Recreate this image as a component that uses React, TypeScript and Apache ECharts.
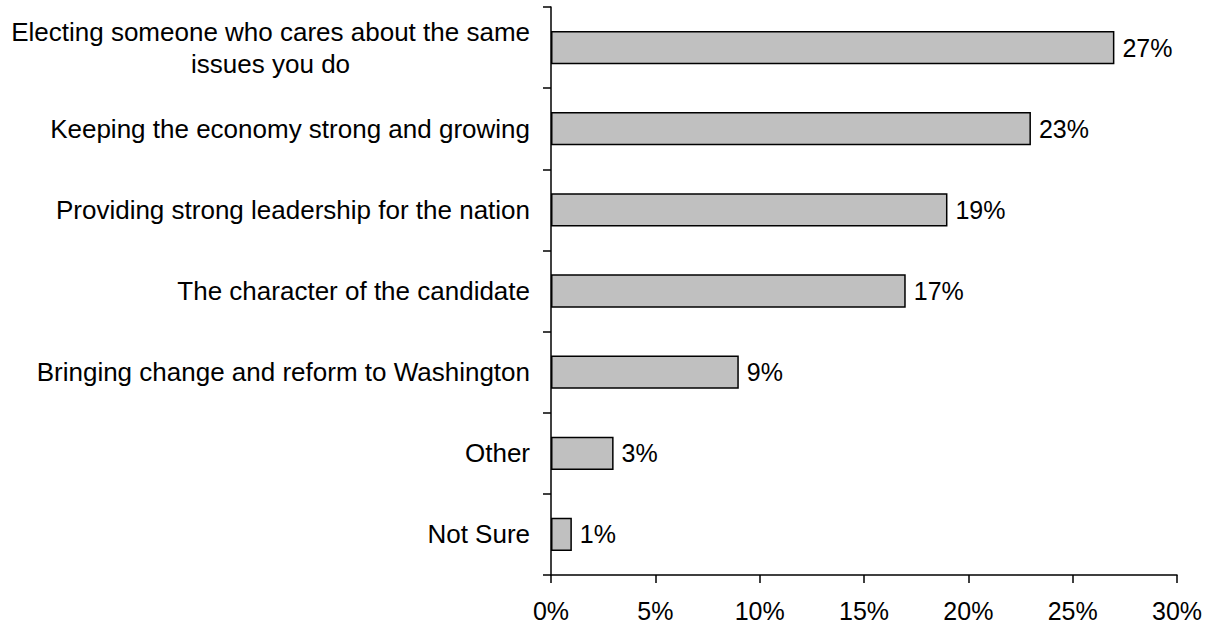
import React, { useEffect, useRef } from "react";
import * as echarts from "echarts";

const categories = [
  "Electing someone who cares about the same\nissues you do",
  "Keeping the economy strong and growing",
  "Providing strong leadership for the nation",
  "The character of the candidate",
  "Bringing change and reform to Washington",
  "Other",
  "Not Sure",
];
const values = [27, 23, 19, 17, 9, 3, 1];
const xTicks = [0, 5, 10, 15, 20, 25, 30];

const FONT = "'Liberation Sans', Arial, sans-serif";

export default function App() {
  const ref = useRef<HTMLDivElement>(null);
  useEffect(() => {
    document.body.style.margin = "0";
    const chart = echarts.init(ref.current!, null, { renderer: "svg" });
    chart.setOption({
      animation: false,
      backgroundColor: "#ffffff",
      grid: { left: 551, right: 38, top: 7, bottom: 53, containLabel: false },
      xAxis: {
        type: "value",
        min: xTicks[0],
        max: xTicks[xTicks.length - 1],
        interval: 5,
        splitLine: { show: false },
        axisLine: { show: true, lineStyle: { color: "#000", width: 1.5 } },
        axisTick: { show: true, length: 8, lineStyle: { color: "#000", width: 1.5 } },
        axisLabel: {
          formatter: (v: number) => v + "%",
          color: "#000",
          fontFamily: FONT,
          fontSize: 25,
          margin: 23,
        },
      },
      yAxis: {
        type: "category",
        data: categories,
        inverse: true,
        axisLine: { show: true, lineStyle: { color: "#000", width: 1.5 } },
        axisTick: { show: true, length: 8, lineStyle: { color: "#000", width: 1.5 } },
        axisLabel: {
          color: "#000",
          fontFamily: FONT,
          fontSize: 26,
          margin: 21,
          lineHeight: 32,
          formatter: (v: string) =>
            v
              .split("\n")
              .map((s) => "{c|" + s + "}")
              .join("\n"),
          rich: {
            c: {
              align: "center",
              color: "#000",
              fontFamily: FONT,
              fontSize: 26,
              lineHeight: 32,
            },
          },
        },
      },
      series: [
        {
          type: "bar",
          data: values,
          barCategoryGap: "59%",
          itemStyle: { color: "#C0C0C0", borderColor: "#000", borderWidth: 1.5 },
          label: {
            show: true,
            position: "right",
            distance: 8,
            formatter: (p: any) => p.value + "%",
            color: "#000",
            fontFamily: FONT,
            fontSize: 25,
          },
        },
      ],
    });
    return () => chart.dispose();
  }, []);
  return (
    <div
      ref={ref}
      style={{ position: "absolute", left: 0, top: 0, width: 1215, height: 628 }}
    />
  );
}
